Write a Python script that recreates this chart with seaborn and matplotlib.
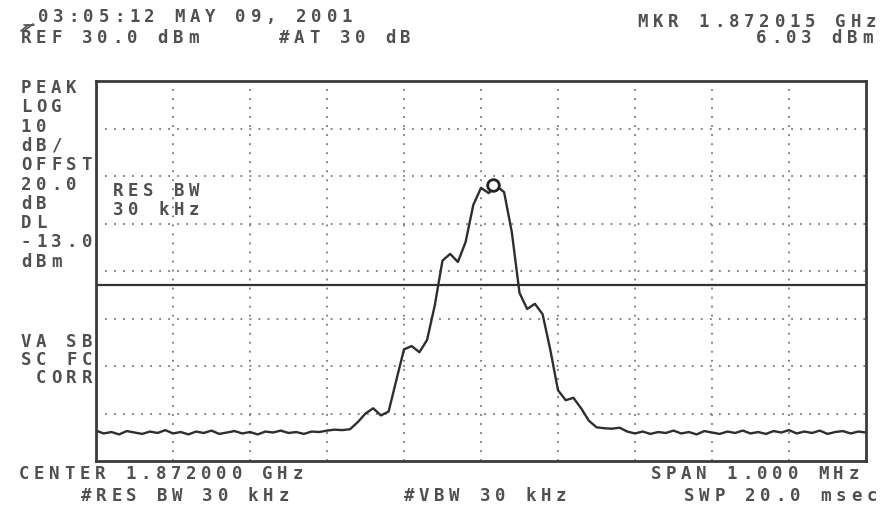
import numpy as np
import pandas as pd
import matplotlib
matplotlib.use("Agg")
import matplotlib.pyplot as plt
from matplotlib.lines import Line2D
import seaborn as sns

# Spectrum analyzer screen dump: 1.872 GHz carrier, 1 MHz span, 10 dB/div

center_ghz = 1.872
span_khz = 1000
ref_dbm = 30
db_per_div = 10
n_vdiv = 8
display_line_dbm = -13.0

# trace level [dBm], one point every 10 kHz from -500 to +500 kHz
trace_dbm = [
    -43.6, -44.2, -43.9, -44.4, -43.7, -44.0, -44.3, -43.8, -44.1, -43.5,
    -44.2, -43.9, -44.4, -43.8, -44.1, -43.6, -44.3, -44.0, -43.7, -44.2,
    -43.9, -44.4, -43.8, -44.0, -43.6, -44.1, -43.9, -44.3, -43.8, -43.9,
    -43.6, -43.4, -43.5, -43.3, -41.8, -40.0, -38.9, -40.4, -39.6, -33.0,
    -26.5, -25.8, -27.1, -24.5, -17.2, -7.8, -6.4, -8.1, -3.9, 3.9,
    7.5, 6.4, 7.9, 6.6, -1.8, -14.6, -18.0, -16.9, -19.1, -26.6,
    -35.1, -37.2, -36.7, -38.9, -41.5, -42.9, -43.1, -43.2, -43.0, -43.8,
    -44.2, -43.8, -44.3, -43.9, -44.1, -43.6, -44.2, -43.9, -44.4, -43.7,
    -44.0, -44.3, -43.8, -44.1, -43.6, -44.2, -43.9, -44.3, -43.7, -44.0,
    -43.5, -44.2, -43.8, -44.1, -43.6, -44.3, -43.9, -43.7, -44.2, -43.8,
    -44.0,
]
offset_khz = np.linspace(-span_khz / 2, span_khz / 2, len(trace_dbm))

marker_khz = 15
marker_dbm = 8.1

# annotation text: (string, x px of first char, y px of centre)
header_text = [
    ("03:05:12 MAY 09, 2001", 37, 17),
    ("REF 30.0 dBm", 20, 38),
    ("#AT 30 dB", 278, 38),
    ("MKR 1.872015 GHz", 637, 22),
    ("6.03 dBm", 755, 38),
]
side_text = ["PEAK", "LOG", "10", "dB/", "OFFST", "20.0", "dB", "DL", "-13.0", "dBm"]
side_text2 = [("VA SB", 20, 342), ("SC FC", 20, 360), (" CORR", 20, 378)]
inner_text = [("RES BW", 112, 191), ("30 kHz", 112, 210)]
footer_text = [
    ("CENTER 1.872000 GHz", 18, 474),
    ("#RES BW 30 kHz", 80, 496),
    ("#VBW 30 kHz", 403, 496),
    ("SPAN 1.000 MHz", 650, 474),
    ("SWP 20.0 msec", 683, 496),
]

W, H = 882, 518
PITCH = 15.2
ink = "#505050"


def screen_text(fig, s, x0, y, size=12.5):
    # analyzer font is fixed-pitch and wide, so place glyph by glyph
    for i, ch in enumerate(s):
        if ch == " ":
            continue
        fig.text((x0 + i * PITCH + 6) / W, 1 - y / H, ch, ha="center", va="center",
                 family="DejaVu Sans Mono", weight="bold", fontsize=size, color=ink)


def main():
    sns.set_style("white")
    df = pd.DataFrame({"offset": offset_khz, "level": trace_dbm})

    fig = plt.figure(figsize=(W / 100, H / 100), dpi=100)
    ax = fig.add_axes([96 / W, (H - 461) / H, 770 / W, 380 / H])

    bottom = ref_dbm - n_vdiv * db_per_div
    ax.set_xlim(-span_khz / 2, span_khz / 2)
    ax.set_ylim(bottom, ref_dbm)
    ax.set_xticks(np.arange(-400, 401, 100))
    ax.set_yticks(np.arange(bottom + db_per_div, ref_dbm, db_per_div))
    ax.grid(True, color="#777777", linestyle=(0, (1, 4)), linewidth=1.3)
    ax.tick_params(length=0, labelbottom=False, labelleft=False)
    for sp in ax.spines.values():
        sp.set_color("#3a3a3a")
        sp.set_linewidth(2)

    ax.axhline(display_line_dbm, color="#333333", linewidth=1.6)
    sns.lineplot(data=df, x="offset", y="level", ax=ax, color="#2e2e2e", linewidth=1.7)
    sns.scatterplot(x=[marker_khz], y=[marker_dbm], ax=ax, marker="o", s=70,
                    facecolor="white", edgecolor="#222222", linewidth=2, zorder=5)
    ax.set_xlabel("")
    ax.set_ylabel("")

    for s, x, y in header_text + side_text2 + inner_text + footer_text:
        screen_text(fig, s, x, y)
    for i, s in enumerate(side_text):
        screen_text(fig, s, 20, 88 + i * 19.3)

    # little logo squiggle under the date
    for xs, ys in [([21, 28], [31, 25]), ([25, 33], [30, 24]), ([24, 34], [25, 25])]:
        fig.add_artist(Line2D([x / W for x in xs], [1 - y / H for y in ys],
                              color=ink, linewidth=1.2))

    fig.savefig("out.png", dpi=100)


if __name__ == "__main__":
    main()
